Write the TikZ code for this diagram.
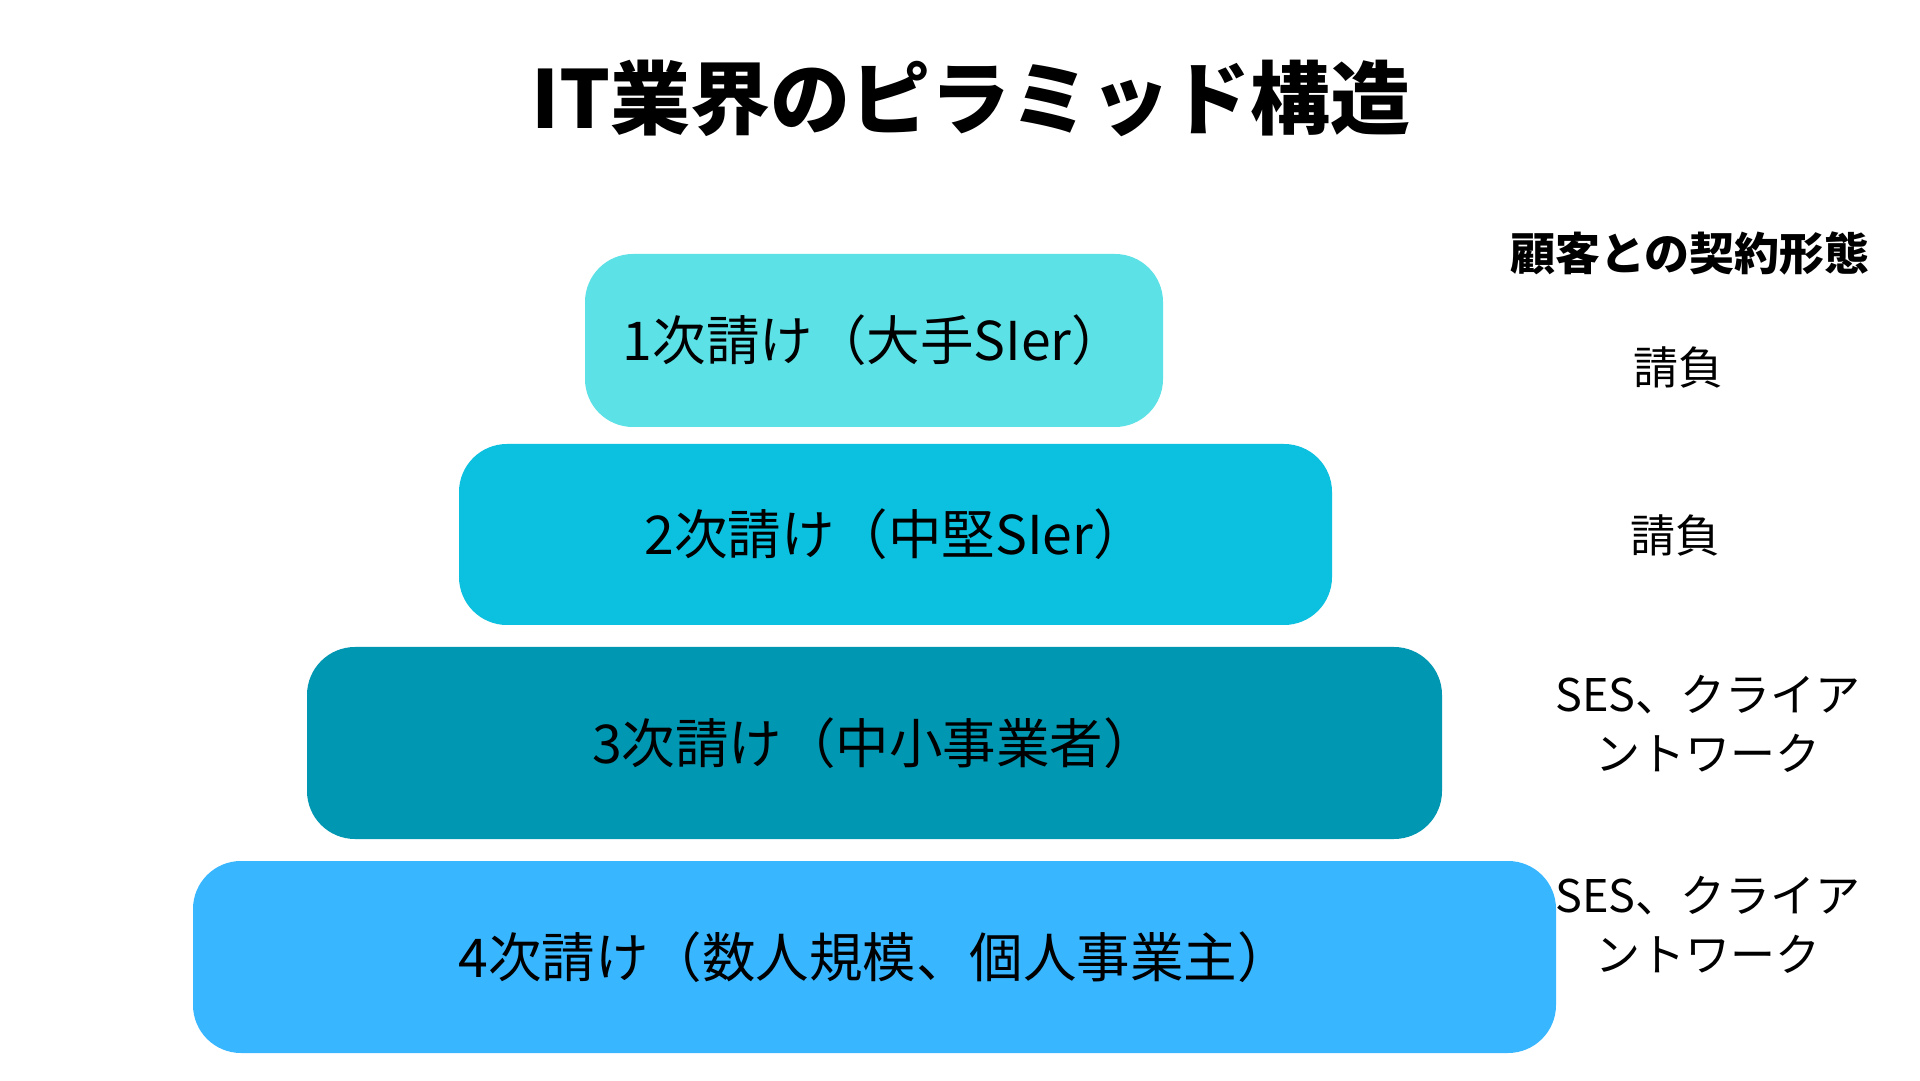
\documentclass[tikz,border=0pt]{standalone}
\usepackage{fontspec}
\setmainfont{Noto Sans CJK JP}
\definecolor{c1}{HTML}{5CE1E6}
\definecolor{c2}{HTML}{0CC0DF}
\definecolor{c3}{HTML}{0097B2}
\definecolor{c4}{HTML}{38B6FF}
\tikzset{
  tier/.style={rounded corners=48pt, inner sep=0pt, text=black,
    font=\fontsize{53.5}{64}\selectfont},
  side/.style={align=center, inner sep=0pt, text=black,
    font=\fontsize{45}{59}\selectfont},
}
\begin{document}
\begin{tikzpicture}[x=1pt,y=1pt]
\useasboundingbox (0,0) rectangle (1920,1080);
\fill[white] (0,0) rectangle (1920,1080);
\node[inner sep=0pt, font=\fontsize{80}{90}\selectfont\bfseries] (title) at (971,982) {IT業界のピラミッド構造};
\node[tier, fill=c1, minimum width=578pt, minimum height=173pt] (t1) at (874,739.5) {1次請け（大手SIer）};
\node[tier, fill=c2, minimum width=873pt, minimum height=181pt] (t2) at (895.5,545.5) {2次請け（中堅SIer）};
\node[tier, fill=c3, minimum width=1135pt, minimum height=192pt] (t3) at (874.5,337) {3次請け（中小事業者）};
\node[tier, fill=c4, minimum width=1363pt, minimum height=192pt] (t4) at (874.5,123) {4次請け（数人規模、個人事業主）};
\node[side, font=\fontsize{45}{59}\selectfont\bfseries] (head) at (1690,827) {顧客との契約形態};
\node[side] (r1) at (1678,713) {請負};
\node[side] (r2) at (1675,545) {請負};
\node[side] (r3) at (1708,356) {SES、クライア\\ントワーク};
\node[side] (r4) at (1708,155) {SES、クライア\\ントワーク};
\end{tikzpicture}
\end{document}
